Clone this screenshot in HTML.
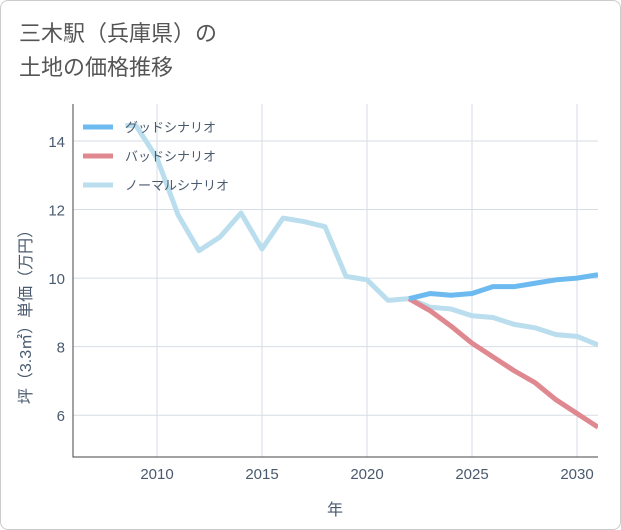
<!DOCTYPE html>
<html><head><meta charset="utf-8">
<style>
body{margin:0;background:#fff;}
#wrap{position:relative;width:619px;height:528px;border:1px solid #ccc;border-radius:8px;overflow:hidden;font-family:"Liberation Sans","Noto Sans CJK JP",sans-serif;}
#title{position:absolute;left:18px;top:16px;font-size:22px;line-height:34px;color:#555;}
</style></head><body>
<div id="wrap">
<div id="title">三木駅（兵庫県）の<br>土地の価格推移</div>
<svg id="c" width="621" height="530" style="position:absolute;left:0;top:0"></svg>
</div>
<script>
const years=[2008.5,2009,2010,2011,2012,2013,2014,2015,2016,2017,2018,2019,2020,2021,2022,2023,2024,2025,2026,2027,2028,2029,2030,2031];
const normal=[14.45,14.45,13.5,11.85,10.8,11.2,11.9,10.85,11.75,11.65,11.5,10.05,9.95,9.35,9.4,9.15,9.1,8.9,8.85,8.65,8.55,8.35,8.3,8.05];
const goodYears=[2022,2023,2024,2025,2026,2027,2028,2029,2030,2031];
const good=[9.4,9.55,9.5,9.55,9.75,9.75,9.85,9.95,10.0,10.1];
const bad=[9.4,9.05,8.6,8.1,7.7,7.3,6.95,6.45,6.05,5.65];
const xTicks=[2010,2015,2020,2025,2030];
const yTicks=[6,8,10,12,14];
const L=72,R=597,T=103,B=456,x0=2006,x1=2031,y0=4.78,y1=15.08;
const X=v=>L+(v-x0)/(x1-x0)*(R-L);
const Y=v=>B-(v-y0)/(y1-y0)*(B-T);
const svg=document.getElementById('c');const NS='http://www.w3.org/2000/svg';
const TC='#4a5a6e';
function mk(t,a,p){const e=document.createElementNS(NS,t);for(const k in a)e.setAttribute(k,a[k]);(p||svg).appendChild(e);return e;}
const cl=mk('clipPath',{id:'clip'});mk('rect',{x:L,y:T,width:R-L,height:B-T},cl);
xTicks.forEach(t=>{const g=mk('line',{x1:X(t),x2:X(t),y1:T,y2:B,stroke:'#d5dde6'});

const tx=mk('text',{x:X(t),y:478,'text-anchor':'middle','font-size':15,fill:TC});tx.textContent=t;
});
yTicks.forEach(t=>{const g=mk('line',{x1:L,x2:R,y1:Y(t),y2:Y(t),stroke:'#d5dde6'});

const tx=mk('text',{x:64,y:Y(t)+6,'text-anchor':'end','font-size':15,fill:TC});tx.textContent=t;
});
const ax=mk('path',{d:`M${L} ${T}V${B}H${R}`,fill:'none',stroke:'#444'});

function line(xs,ys,col,name){const d=xs.map((v,i)=>(i?'L':'M')+X(v)+' '+Y(ys[i])).join('');
const p=mk('path',{d,fill:'none',stroke:col,'stroke-width':5,'stroke-linejoin':'round','clip-path':'url(#clip)'});
}
line(years,normal,'#badeed','normal-line');
line(goodYears,bad,'#e08890','bad-line');
line(goodYears,good,'#6cbaf0','good-line');
const leg=[['グッドシナリオ','#6cbaf0'],['バッドシナリオ','#e08890'],['ノーマルシナリオ','#badeed']];
leg.forEach((l,i)=>{const y=126+i*29;
const s=mk('line',{x1:82,x2:112,y1:y,y2:y,stroke:l[1],'stroke-width':5});

const t=mk('text',{x:124,y:y+5,'font-size':13,fill:TC});t.textContent=l[0];
});
const xt=mk('text',{x:334,y:514,'text-anchor':'middle','font-size':16,fill:TC});xt.textContent='年';

const yt=mk('text',{x:30,y:312,'text-anchor':'middle','font-size':16,fill:TC,transform:'rotate(-90 30 312)'});yt.textContent='坪（3.3㎡）単価（万円）';

</script>
</body></html>
